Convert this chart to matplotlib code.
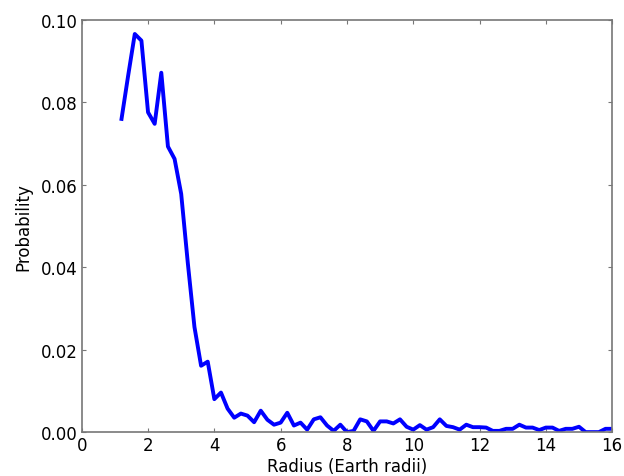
import matplotlib
matplotlib.use("Agg")
import matplotlib.pyplot as plt

# Radius bin centres (Earth radii) and the probability in each bin
radius = [1.2, 1.4, 1.6, 1.8, 2.0, 2.2, 2.4, 2.6, 2.8, 3.0,
          3.2, 3.4, 3.6, 3.8, 4.0, 4.2, 4.4, 4.6, 4.8, 5.0,
          5.2, 5.4, 5.6, 5.8, 6.0, 6.2, 6.4, 6.6, 6.8, 7.0,
          7.2, 7.4, 7.6, 7.8, 8.0, 8.2, 8.4, 8.6, 8.8, 9.0,
          9.2, 9.4, 9.6, 9.8, 10.0, 10.2, 10.4, 10.6, 10.8, 11.0,
          11.2, 11.4, 11.6, 11.8, 12.0, 12.2, 12.4, 12.6, 12.8, 13.0,
          13.2, 13.4, 13.6, 13.8, 14.0, 14.2, 14.4, 14.6, 14.8, 15.0,
          15.2, 15.4, 15.6, 15.8, 16.0]
probability = [0.0760, 0.0865, 0.0966, 0.0950, 0.0776, 0.0748, 0.0872, 0.0693, 0.0663, 0.0578,
               0.0410, 0.0255, 0.0161, 0.0171, 0.0080, 0.0096, 0.0057, 0.0035, 0.0045, 0.0040,
               0.0024, 0.0052, 0.0030, 0.0018, 0.0023, 0.0047, 0.0016, 0.0023, 0.0006, 0.0031,
               0.0036, 0.0016, 0.0003, 0.0018, 0.0000, 0.0003, 0.0031, 0.0026, 0.0003, 0.0026,
               0.0026, 0.0021, 0.0031, 0.0013, 0.0006, 0.0017, 0.0006, 0.0012, 0.0031, 0.0015,
               0.0012, 0.0006, 0.0018, 0.0012, 0.0012, 0.0011, 0.0003, 0.0003, 0.0008, 0.0008,
               0.0018, 0.0011, 0.0011, 0.0005, 0.0011, 0.0011, 0.0003, 0.0008, 0.0008, 0.0013,
               0.0000, 0.0000, 0.0000, 0.0008, 0.0008]

x_ticks = [0, 2, 4, 6, 8, 10, 12, 14, 16]
y_ticks = [0.00, 0.02, 0.04, 0.06, 0.08, 0.10]

fig = plt.figure(figsize=(6.24, 4.77), dpi=100)
ax = fig.add_axes([0.131, 0.092, 0.850, 0.864])

ax.plot(radius, probability, color="blue", linewidth=2.8)

ax.set_xlim(0, 16)
ax.set_ylim(0, 0.10)
ax.set_xticks(x_ticks)
ax.set_yticks(y_ticks)
ax.set_yticklabels(["%.2f" % v for v in y_ticks])
ax.tick_params(direction="in", top=True, right=True, labelsize=12,
               length=3, color="#777777", pad=3)
for side in ax.spines.values():
    side.set_color("#777777")
    side.set_linewidth(1.2)

ax.set_xlabel("Radius (Earth radii)", fontsize=12, labelpad=2)
ax.set_ylabel("Probability", fontsize=12, labelpad=6)

fig.savefig("out.png", dpi=100)
